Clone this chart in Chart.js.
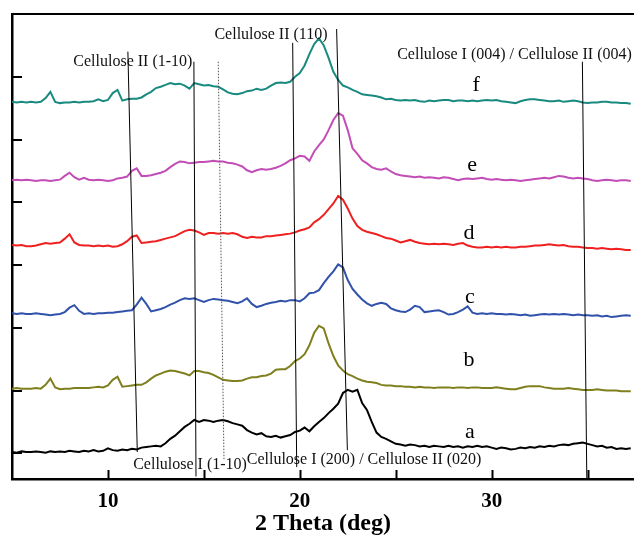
<!DOCTYPE html>
<html>
<head>
<meta charset="utf-8">
<script src="https://cdn.jsdelivr.net/npm/chart.js@4.4.1/dist/chart.umd.min.js"></script>
<style>
  html, body { margin: 0; padding: 0; background: #fff; }
  canvas { display: block; }
</style>
</head>
<body>
<canvas id="xrdChart" width="634" height="541"></canvas>
<script>
// 2 theta positions (deg), shared by all six patterns
const twoTheta = [
  5.00, 5.25, 5.50, 5.75, 6.00, 6.25, 6.50, 6.75, 7.00, 7.25,
  7.50, 7.75, 8.00, 8.25, 8.50, 8.75, 9.00, 9.25, 9.50, 9.75,
  10.00, 10.25, 10.50, 10.75, 11.00, 11.25, 11.50, 11.75, 12.00, 12.25,
  12.50, 12.75, 13.00, 13.25, 13.50, 13.75, 14.00, 14.25, 14.50, 14.75,
  15.00, 15.25, 15.50, 15.75, 16.00, 16.25, 16.50, 16.75, 17.00, 17.25,
  17.50, 17.75, 18.00, 18.25, 18.50, 18.75, 19.00, 19.25, 19.50, 19.75,
  20.00, 20.25, 20.50, 20.75, 21.00, 21.25, 21.50, 21.75, 22.00, 22.25,
  22.50, 22.75, 23.00, 23.25, 23.50, 23.75, 24.00, 24.25, 24.50, 24.75,
  25.00, 25.25, 25.50, 25.75, 26.00, 26.25, 26.50, 26.75, 27.00, 27.25,
  27.50, 27.75, 28.00, 28.25, 28.50, 28.75, 29.00, 29.25, 29.50, 29.75,
  30.00, 30.25, 30.50, 30.75, 31.00, 31.25, 31.50, 31.75, 32.00, 32.25,
  32.50, 32.75, 33.00, 33.25, 33.50, 33.75, 34.00, 34.25, 34.50, 34.75,
  35.00, 35.25, 35.50, 35.75, 36.00, 36.25, 36.50, 36.75, 37.00, 37.25
];

// stacked intensities (offset units)
const seriesF = [
  5.60, 5.59, 5.60, 5.59, 5.60, 5.59, 5.60, 5.66, 5.76, 5.60,
  5.58, 5.59, 5.59, 5.60, 5.59, 5.60, 5.60, 5.61, 5.64, 5.61,
  5.63, 5.74, 5.79, 5.62, 5.64, 5.65, 5.65, 5.67, 5.72, 5.76,
  5.82, 5.84, 5.87, 5.90, 5.88, 5.89, 5.86, 5.81, 5.90, 5.88,
  5.86, 5.87, 5.85, 5.84, 5.80, 5.75, 5.73, 5.72, 5.74, 5.77,
  5.78, 5.81, 5.79, 5.81, 5.86, 5.90, 5.91, 5.90, 5.92, 6.00,
  6.06, 6.18, 6.36, 6.52, 6.61, 6.50, 6.30, 6.08, 5.95, 5.86,
  5.83, 5.79, 5.76, 5.72, 5.71, 5.70, 5.69, 5.67, 5.64, 5.65,
  5.63, 5.62, 5.63, 5.62, 5.63, 5.61, 5.60, 5.62, 5.61, 5.62,
  5.63, 5.63, 5.61, 5.62, 5.62, 5.61, 5.62, 5.61, 5.62, 5.63,
  5.62, 5.63, 5.61, 5.60, 5.59, 5.58, 5.61, 5.63, 5.64, 5.64,
  5.63, 5.62, 5.61, 5.61, 5.62, 5.60, 5.61, 5.62, 5.61, 5.59,
  5.58, 5.59, 5.59, 5.60, 5.60, 5.59, 5.59, 5.58, 5.58, 5.57
];
const seriesE = [
  4.35, 4.36, 4.35, 4.36, 4.35, 4.34, 4.35, 4.35, 4.34, 4.35,
  4.36, 4.42, 4.47, 4.40, 4.36, 4.39, 4.36, 4.35, 4.36, 4.35,
  4.34, 4.35, 4.38, 4.39, 4.41, 4.50, 4.54, 4.42, 4.42, 4.43,
  4.45, 4.47, 4.50, 4.56, 4.61, 4.65, 4.64, 4.62, 4.63, 4.64,
  4.64, 4.65, 4.66, 4.65, 4.65, 4.63, 4.62, 4.60, 4.57, 4.51,
  4.48, 4.51, 4.53, 4.52, 4.53, 4.55, 4.58, 4.62, 4.67, 4.70,
  4.74, 4.73, 4.66, 4.81, 4.91, 5.00, 5.15, 5.31, 5.42, 5.38,
  5.15, 4.86, 4.77, 4.67, 4.62, 4.56, 4.53, 4.52, 4.54, 4.49,
  4.45, 4.43, 4.42, 4.41, 4.40, 4.41, 4.39, 4.40, 4.39, 4.38,
  4.40, 4.39, 4.37, 4.35, 4.37, 4.38, 4.37, 4.38, 4.39, 4.37,
  4.36, 4.37, 4.36, 4.35, 4.36, 4.35, 4.34, 4.35, 4.36, 4.37,
  4.38, 4.39, 4.38, 4.40, 4.42, 4.41, 4.39, 4.38, 4.39, 4.38,
  4.37, 4.35, 4.34, 4.35, 4.36, 4.35, 4.34, 4.35, 4.35, 4.34
];
const seriesD = [
  3.32, 3.31, 3.32, 3.30, 3.30, 3.31, 3.33, 3.35, 3.34, 3.35,
  3.36, 3.42, 3.49, 3.36, 3.32, 3.31, 3.31, 3.30, 3.31, 3.30,
  3.31, 3.29, 3.30, 3.33, 3.38, 3.45, 3.47, 3.35, 3.36, 3.37,
  3.38, 3.40, 3.42, 3.44, 3.46, 3.50, 3.54, 3.56, 3.55, 3.52,
  3.48, 3.51, 3.51, 3.50, 3.51, 3.50, 3.51, 3.49, 3.45, 3.43,
  3.45, 3.44, 3.44, 3.46, 3.46, 3.47, 3.48, 3.49, 3.50, 3.52,
  3.55, 3.57, 3.60, 3.68, 3.73, 3.80, 3.89, 3.98, 4.10, 4.04,
  3.90, 3.74, 3.62, 3.56, 3.53, 3.51, 3.49, 3.46, 3.43, 3.42,
  3.39, 3.36, 3.38, 3.40, 3.37, 3.35, 3.34, 3.33, 3.34, 3.33,
  3.34, 3.33, 3.32, 3.34, 3.35, 3.31, 3.29, 3.28, 3.28, 3.29,
  3.28, 3.29, 3.28, 3.29, 3.28, 3.28, 3.29, 3.29, 3.30, 3.31,
  3.31, 3.32, 3.33, 3.32, 3.31, 3.32, 3.30, 3.29, 3.29, 3.28,
  3.27, 3.27, 3.26, 3.27, 3.26, 3.25, 3.26, 3.25, 3.24, 3.24
];
const seriesC = [
  2.23, 2.22, 2.23, 2.22, 2.22, 2.23, 2.22, 2.21, 2.20, 2.21,
  2.22, 2.25, 2.32, 2.36, 2.27, 2.22, 2.23, 2.22, 2.23, 2.23,
  2.24, 2.24, 2.25, 2.26, 2.27, 2.28, 2.37, 2.48, 2.38, 2.26,
  2.28, 2.30, 2.33, 2.37, 2.40, 2.44, 2.47, 2.46, 2.47, 2.44,
  2.41, 2.44, 2.46, 2.45, 2.44, 2.43, 2.41, 2.39, 2.42, 2.47,
  2.38, 2.33, 2.35, 2.38, 2.40, 2.41, 2.43, 2.42, 2.44, 2.44,
  2.42, 2.47, 2.55, 2.56, 2.60, 2.71, 2.81, 2.90, 3.01, 2.96,
  2.76, 2.62, 2.53, 2.45, 2.39, 2.35, 2.38, 2.40, 2.38, 2.31,
  2.28, 2.26, 2.25, 2.29, 2.35, 2.33, 2.25, 2.26, 2.27, 2.28,
  2.25, 2.21, 2.22, 2.25, 2.29, 2.34, 2.24, 2.22, 2.23, 2.22,
  2.23, 2.22, 2.22, 2.21, 2.22, 2.21, 2.20, 2.21, 2.19, 2.20,
  2.21, 2.22, 2.21, 2.22, 2.21, 2.22, 2.21, 2.20, 2.21, 2.20,
  2.20, 2.19, 2.20, 2.18, 2.19, 2.17, 2.18, 2.19, 2.20, 2.19
];
const seriesB = [
  1.03, 1.04, 1.03, 1.03, 1.03, 1.04, 1.03, 1.09, 1.19, 1.05,
  1.02, 1.03, 1.03, 1.04, 1.04, 1.04, 1.04, 1.05, 1.06, 1.05,
  1.08, 1.17, 1.22, 1.06, 1.07, 1.08, 1.09, 1.09, 1.13, 1.19,
  1.24, 1.27, 1.30, 1.32, 1.31, 1.29, 1.27, 1.24, 1.31, 1.31,
  1.29, 1.28, 1.25, 1.21, 1.17, 1.16, 1.15, 1.15, 1.16, 1.19,
  1.21, 1.21, 1.23, 1.24, 1.27, 1.33, 1.34, 1.34, 1.39, 1.47,
  1.51, 1.58, 1.72, 1.92, 2.03, 1.99, 1.75, 1.55, 1.40, 1.32,
  1.26, 1.23, 1.19, 1.16, 1.14, 1.13, 1.12, 1.09, 1.08, 1.08,
  1.07, 1.07, 1.06, 1.06, 1.05, 1.06, 1.05, 1.05, 1.04, 1.05,
  1.05, 1.05, 1.04, 1.05, 1.05, 1.04, 1.05, 1.05, 1.04, 1.04,
  1.04, 1.05, 1.04, 1.03, 1.02, 1.02, 1.04, 1.06, 1.07, 1.07,
  1.07, 1.05, 1.04, 1.03, 1.03, 1.03, 1.04, 1.03, 1.02, 1.01,
  1.01, 1.01, 1.02, 1.01, 1.00, 1.00, 1.00, 0.99, 0.99, 0.99
];
const seriesA = [
  0.02, 0.01, 0.03, 0.02, 0.02, 0.03, 0.02, 0.01, 0.03, 0.02,
  0.03, 0.02, 0.04, 0.03, 0.02, 0.04, 0.03, 0.05, 0.03, 0.04,
  0.08, 0.05, 0.04, 0.06, 0.05, 0.07, 0.06, 0.09, 0.10, 0.11,
  0.12, 0.11, 0.16, 0.23, 0.28, 0.35, 0.42, 0.47, 0.53, 0.50,
  0.53, 0.52, 0.50, 0.52, 0.53, 0.51, 0.48, 0.46, 0.44, 0.37,
  0.33, 0.30, 0.32, 0.27, 0.26, 0.28, 0.25, 0.27, 0.29, 0.34,
  0.36, 0.41, 0.35, 0.43, 0.50, 0.56, 0.64, 0.71, 0.79, 0.96,
  1.01, 0.98, 1.01, 0.80, 0.69, 0.50, 0.33, 0.26, 0.23, 0.19,
  0.15, 0.14, 0.12, 0.14, 0.13, 0.11, 0.12, 0.10, 0.12, 0.11,
  0.10, 0.12, 0.10, 0.11, 0.09, 0.11, 0.10, 0.12, 0.10, 0.11,
  0.09, 0.07, 0.09, 0.08, 0.06, 0.07, 0.09, 0.08, 0.10, 0.09,
  0.11, 0.10, 0.12, 0.11, 0.13, 0.14, 0.13, 0.15, 0.16, 0.17,
  0.15, 0.13, 0.11, 0.12, 0.09, 0.10, 0.07, 0.08, 0.07, 0.08
];

const seriesNames = ['a', 'b', 'c', 'd', 'e', 'f'];
const xTickLabels = [10, 20, 30];
const xTickMarks = [10, 15, 20, 25, 30, 35];
const yTickMarks = [0, 1, 2, 3, 4, 5, 6];

// reflection guide lines: top and bottom ends in data units
const guideTopX = [11.04, 14.48, 15.75, 19.63, 21.92, 34.73];
const guideTopY = [6.40, 6.24, 6.24, 6.54, 6.76, 6.24];
const guideBottomX = [11.53, 14.59, 16.05, 19.84, 22.48, 34.96];
const guideBottomY = [0.02, -0.37, -0.11, -0.22, 0.05, -0.41];

const peakLabels = [
  'Cellulose II (1-10)',
  'Cellulose II (110)',
  'Cellulose I (004) / Cellulose II (004)',
  'Cellulose I (1-10)',
  'Cellulose I (200) / Cellulose II (020)'
];

// where the texts sit (data units)
const peakLabelPos = [[11.30, 6.24], [18.50, 6.67], [31.19, 6.35], [14.28, -0.19], [23.35, -0.11]];
const letterPos = [[28.87, 0.33], [28.82, 1.48], [28.87, 2.49], [28.82, 3.51], [28.98, 4.59], [29.19, 5.87]];

const colors = ['#000000', '#7f7f1e', '#3152ab', '#ee2020', '#c24db6', '#188a7f'];
const serif = "'Liberation Serif', 'Times New Roman', serif";

function toPoints(values) {
  return values.map((v, i) => ({ x: twoTheta[i], y: v }));
}

const allSeries = [seriesA, seriesB, seriesC, seriesD, seriesE, seriesF];

const datasets = [];
guideTopX.forEach((x, i) => {
  datasets.push({
    label: 'guide' + i,
    data: [{ x: x, y: guideTopY[i] }, { x: guideBottomX[i], y: guideBottomY[i] }],
    borderColor: i === 2 ? '#555' : '#000',
    borderWidth: 1,
    borderDash: i === 2 ? [1.5, 1.5] : [],
    pointRadius: 0
  });
});
allSeries.forEach((vals, i) => {
  datasets.push({
    label: seriesNames[i],
    data: toPoints(vals),
    borderColor: colors[i],
    borderWidth: 2,
    pointRadius: 0,
    tension: 0
  });
});

// inward tick marks and the top frame line
const frameTicks = {
  id: 'frameTicks',
  afterDraw(chart) {
    const { ctx, chartArea, scales } = chart;
    ctx.save();
    ctx.strokeStyle = '#000';
    ctx.lineWidth = 2;
    ctx.beginPath();
    xTickMarks.forEach(v => {
      const px = Math.round(scales.x.getPixelForValue(v)) + 0.5;
      ctx.moveTo(px, chartArea.bottom);
      ctx.lineTo(px, chartArea.bottom - 9);
    });
    yTickMarks.forEach(v => {
      const py = Math.round(scales.y.getPixelForValue(v));
      ctx.moveTo(chartArea.left, py);
      ctx.lineTo(chartArea.left + 10, py);
    });
    ctx.moveTo(chartArea.left - 1, chartArea.top);
    ctx.lineTo(chartArea.right, chartArea.top);
    ctx.stroke();
    ctx.restore();
  }
};

// peak names and curve letters
const textLabels = {
  id: 'textLabels',
  afterDatasetsDraw(chart) {
    const { ctx, scales } = chart;
    ctx.save();
    ctx.textAlign = 'center';
    ctx.textBaseline = 'middle';
    ctx.fillStyle = '#111';
    ctx.font = '16px ' + serif;
    peakLabels.forEach((t, i) => {
      ctx.fillText(t, scales.x.getPixelForValue(peakLabelPos[i][0]), scales.y.getPixelForValue(peakLabelPos[i][1]));
    });
    ctx.fillStyle = '#000';
    ctx.font = '22px ' + serif;
    seriesNames.forEach((t, i) => {
      ctx.fillText(t, scales.x.getPixelForValue(letterPos[i][0]), scales.y.getPixelForValue(letterPos[i][1]));
    });
    ctx.restore();
  }
};

new Chart(document.getElementById('xrdChart'), {
  type: 'line',
  data: { datasets: datasets },
  options: {
    responsive: false,
    animation: false,
    devicePixelRatio: 1,
    layout: { padding: { top: 14, right: 0, bottom: 0, left: 0 } },
    plugins: { legend: { display: false }, tooltip: { enabled: false } },
    scales: {
      x: {
        type: 'linear',
        min: 5,
        max: 37.42,
        afterBuildTicks: scale => { scale.ticks = xTickLabels.map(v => ({ value: v })); },
        afterFit: scale => { scale.height = 62; },
        grid: { drawOnChartArea: false, drawTicks: false },
        border: { display: true, color: '#000', width: 2.5 },
        ticks: {
          autoSkip: false,
          maxRotation: 0,
          padding: 10,
          color: '#000',
          font: { family: serif, size: 21, weight: 'bold' }
        },
        title: {
          display: true,
          text: '2 Theta (deg)',
          color: '#000',
          font: { family: serif, size: 24, weight: 'bold' },
          padding: { top: 0, bottom: 3 }
        }
      },
      y: {
        type: 'linear',
        min: -0.41,
        max: 7.0,
        afterFit: scale => { scale.width = 12; },
        grid: { drawOnChartArea: false, drawTicks: false },
        border: { display: true, color: '#000', width: 2.5 },
        ticks: { display: false }
      }
    }
  },
  plugins: [frameTicks, textLabels]
});
</script>
</body>
</html>
